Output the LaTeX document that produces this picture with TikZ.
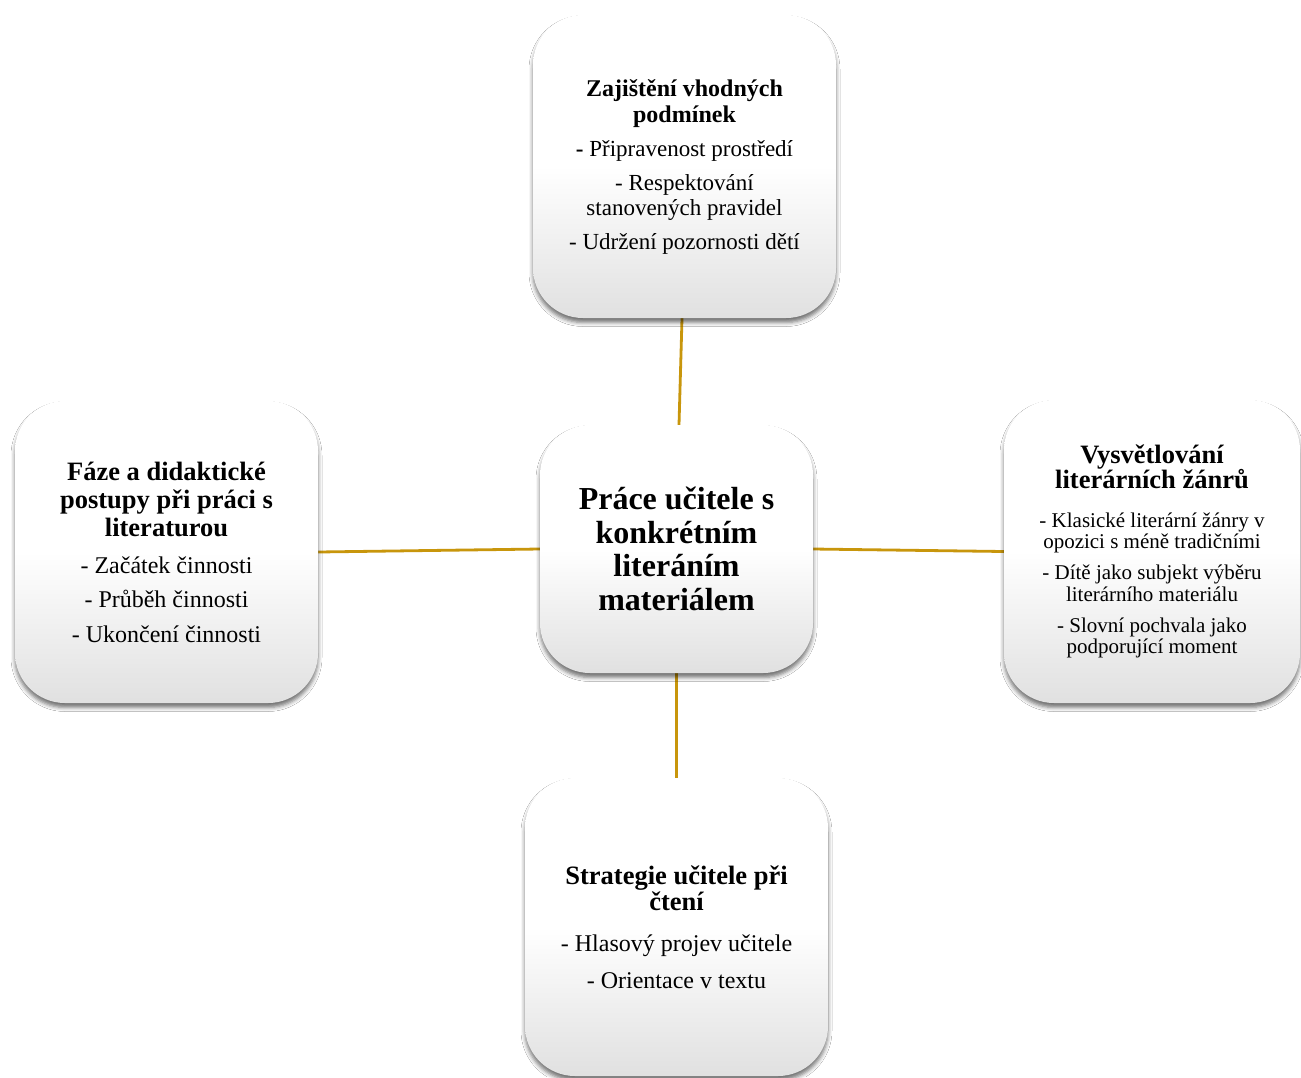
\documentclass[tikz,border=0pt]{standalone}
\usepackage{fontspec}
\setmainfont{Liberation Serif}[WordSpace={1,0,0}]
\usetikzlibrary{shadows.blur,backgrounds}
\definecolor{gold}{RGB}{200,150,12}
\begin{document}
\begin{tikzpicture}[x=1pt,y=-1pt,
  box/.style={rectangle, rounded corners=50pt, top color=white, bottom color=black!12, middle color=white,
    blur shadow={shadow xshift=0pt, shadow yshift=-4.5pt, shadow blur radius=4pt, shadow opacity=55},
    align=flush center, inner sep=0pt, text width=296pt,
    execute at begin node={\lineskiplimit=-50pt\relax}},
  link/.style={draw=gold, line width=2.8pt}]
\useasboundingbox (0,0) rectangle (1301,1077);

\node[box, minimum width=303pt, minimum height=303pt] (t) at (684.5,166.5) {%
  {\fontsize{24}{26}\selectfont\bfseries Zajištění vhodných\\podmínek\par}\vspace{9pt}%
  {\fontsize{23}{25}\selectfont \textbf{-} Připravenost prostředí\par}\vspace{9pt}%
  {\fontsize{23}{25}\selectfont - Respektování\\stanovených pravidel\par}\vspace{9pt}%
  {\fontsize{23}{25}\selectfont - Udržení pozornosti dětí\par}};

\node[box, minimum width=273pt, minimum height=248pt, text width=268pt] (c) at (676.5,549) {%
  {\fontsize{32}{33.5}\selectfont\bfseries Práce učitele s\\konkrétním\\literáním\\materiálem\par}};

\node[box, minimum width=303pt, minimum height=302pt] (l) at (166.5,552) {%
  {\fontsize{26.5}{28}\selectfont\bfseries Fáze a didaktické\\postupy při práci s\\literaturou\par}\vspace{12pt}%
  {\fontsize{24}{25}\selectfont - Začátek činnosti\par}\vspace{9.5pt}%
  {\fontsize{24}{25}\selectfont - Průběh činnosti\par}\vspace{9.5pt}%
  {\fontsize{24}{25}\selectfont - Ukončení činnosti\par}};

\node[box, minimum width=296pt, minimum height=303pt, text width=292pt] (r) at (1152,551.5) {%
  {\fontsize{26.5}{25}\selectfont\bfseries Vysvětlování\\literárních žánrů\par}\vspace{17.5pt}%
  {\fontsize{21}{21.5}\selectfont - Klasické literární žánry v\\opozici s méně tradičními\par}\vspace{9.5pt}%
  {\fontsize{21}{21.5}\selectfont - Dítě jako subjekt výběru\\literárního materiálu\par}\vspace{9.5pt}%
  {\fontsize{21}{21.5}\selectfont - Slovní pochvala jako\\podporující moment\par}};

\node[box, minimum width=303pt, minimum height=298pt] (b) at (676.5,927) {%
  {\fontsize{26.5}{26}\selectfont\bfseries Strategie učitele při\\čtení\par}\vspace{16pt}%
  {\fontsize{24}{25}\selectfont - Hlasový projev učitele\par}\vspace{12pt}%
  {\fontsize{24}{25}\selectfont - Orientace v textu\par}};

\begin{scope}[on background layer]
\fill[white] (0,0) rectangle (1301,1077);
\draw[link] ([xshift=2.5pt]c.north) -- ([xshift=-2.5pt]t.south);
\draw[link] (l.east) -- (c.west);
\draw[link] (c.east) -- (r.west);
\draw[link] (c.south) -- (b.north);
\end{scope}
\end{tikzpicture}
\end{document}
